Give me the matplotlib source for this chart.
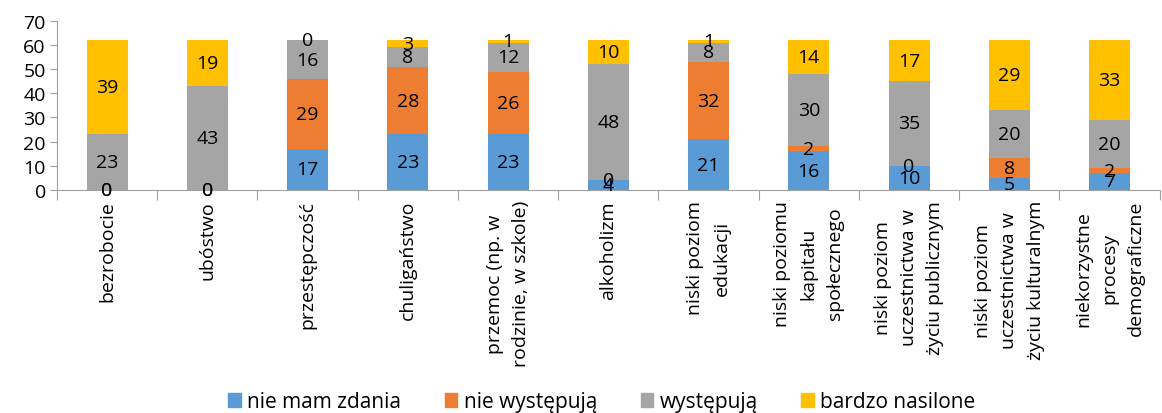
import numpy as np
import matplotlib
matplotlib.use("Agg")
import matplotlib.pyplot as plt
from matplotlib.patches import Patch

plt.rcParams['font.family'] = ['Open Sans', 'DejaVu Sans']

categories = [
    "bezrobocie",
    "ubóstwo",
    "przestępczość",
    "chuligaństwo",
    "przemoc (np. w\nrodzinie, w szkole)",
    "alkoholizm",
    "niski poziom\nedukacji",
    "niski poziomu\nkapitału\nspołecznego",
    "niski poziom\nuczestnictwa w\nżyciu publicznym",
    "niski poziom\nuczestnictwa w\nżyciu kulturalnym",
    "niekorzystne\nprocesy\ndemograficzne",
]
series_names = ["nie mam zdania", "nie występują", "występują", "bardzo nasilone"]
nie_mam_zdania = [0, 0, 17, 23, 23, 4, 21, 16, 10, 5, 7]
nie_wystepuja = [0, 0, 29, 28, 26, 0, 32, 2, 0, 8, 2]
wystepuja = [23, 43, 16, 8, 12, 48, 8, 30, 35, 20, 20]
bardzo_nasilone = [39, 19, 0, 3, 1, 10, 1, 14, 17, 29, 33]
colors = ["#5B9BD5", "#ED7D31", "#A5A5A5", "#FFC000"]

series = [nie_mam_zdania, nie_wystepuja, wystepuja, bardzo_nasilone]
fs = 14

fig = plt.figure(figsize=(11.62, 4.14), dpi=100)
ax = fig.add_axes([0.049, 0.539, 0.949, 0.408])

x = np.arange(len(categories))
bottom = np.zeros(len(categories))
for name, vals, col in zip(series_names, series, colors):
    vals = np.array(vals, dtype=float)
    ax.bar(x, vals, 0.41, bottom=bottom, color=col, label=name, zorder=2)
    for xi, b, v in zip(x, bottom, vals):
        ax.text(xi, b + v / 2, f"{int(v)}", ha="center", va="center", fontsize=fs, zorder=3)
    bottom += vals

ax.set_xlim(-0.5, len(categories) - 0.5)
ax.set_ylim(0, 70)
ax.set_yticks(range(0, 71, 10))
ax.tick_params(axis="y", labelsize=fs, length=5, color="#A0A0A0", pad=3)

ax.set_xticks(np.arange(-0.5, len(categories), 1))
ax.set_xticklabels([])
ax.tick_params(axis="x", length=7, color="#A0A0A0")
for xi, lab in zip(x, categories):
    ax.text(xi, -0.06, lab, transform=ax.get_xaxis_transform(), rotation=90,
            ha="center", va="top", multialignment="center", fontsize=fs, linespacing=1.6)

for s in ["top", "right"]:
    ax.spines[s].set_visible(False)
for s in ["left", "bottom"]:
    ax.spines[s].set_color("#A0A0A0")

handles = [Patch(color=c, label=n) for n, c in zip(series_names, colors)]
fig.legend(handles=handles, loc="center", bbox_to_anchor=(0.518, 0.027), ncol=4,
           frameon=False, fontsize=15, handlelength=0.6, handleheight=0.6,
           handletextpad=0.3, columnspacing=2.1)

fig.savefig("out.png", dpi=100)
